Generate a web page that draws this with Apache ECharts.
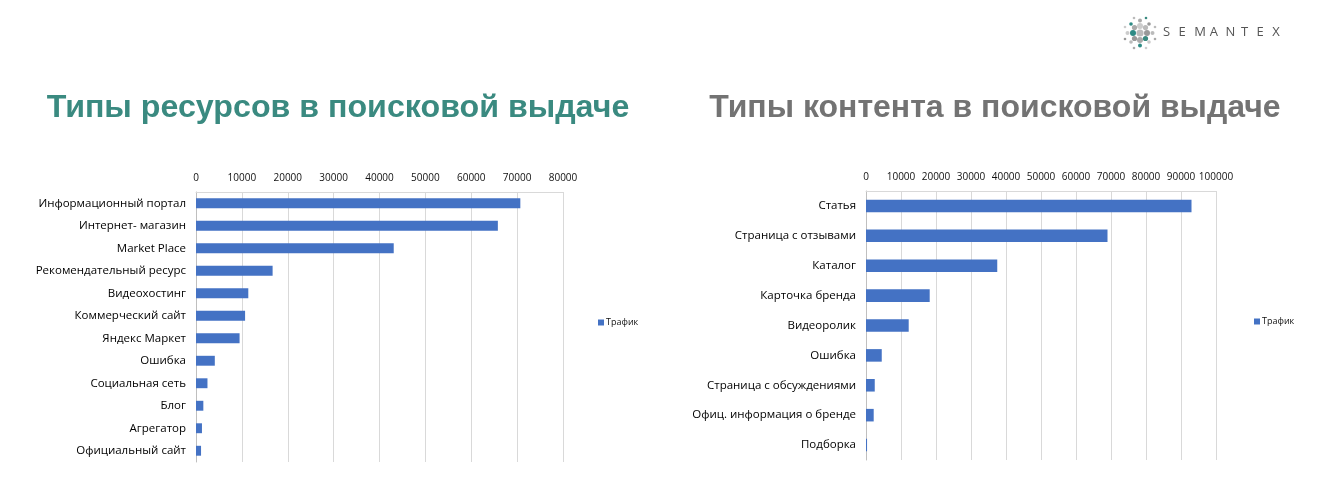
<!DOCTYPE html>
<html><head><meta charset="utf-8">
<script src="https://cdn.jsdelivr.net/npm/echarts@6/dist/echarts.min.js"></script>
<style>html,body{margin:0;padding:0;background:#fff}#c{width:1344px;height:495px}</style>
</head><body><div id="c"></div>
<script>
const resCategories = ['Информационный портал','Интернет- магазин','Market Place','Рекомендательный ресурс','Видеохостинг','Коммерческий сайт','Яндекс Маркет','Ошибка','Социальная сеть','Блог','Агрегатор','Официальный сайт'];
const resValues = [70700,65800,43100,16700,11400,10700,9500,4100,2500,1600,1300,1100];
const contCategories = ['Статья','Страница с отзывами','Каталог','Карточка бренда','Видеоролик','Ошибка','Страница с обсуждениями','Офиц. информация о бренде','Подборка'];
const contValues = [93000,69000,37500,18200,12200,4500,2500,2200,300];
const seriesName = 'Трафик';
const titleLeft = 'Типы ресурсов в поисковой выдаче';
const titleRight = 'Типы контента в поисковой выдаче';
const brand = 'SEMANTEX';

const chart = echarts.init(document.getElementById('c'));
const font = 'Open Sans';
function valueAxis(idx, max) {
  return {
    type: 'value', gridIndex: idx, position: 'top', min: 0, max: max, interval: 10000,
    axisLine: {show: true, lineStyle: {color: '#d9d9d9'}},
    axisTick: {show: false},
    splitLine: {show: true, lineStyle: {color: '#d9d9d9'}},
    axisLabel: {color: '#111', fontSize: 10, fontFamily: font, margin: 9, formatter: v => String(v)}
  };
}
function catAxis(idx, cats) {
  return {
    type: 'category', gridIndex: idx, data: cats, inverse: true,
    axisLine: {show: true, lineStyle: {color: '#bfbfbf'}},
    axisTick: {show: false},
    axisLabel: {color: '#000', fontSize: 11.5, fontFamily: font, margin: 10}
  };
}
// logo dots (decoration)
const logo = [];
const rings = [[0,0,3.6,'#bbb'],[7,0,3,'#999'],[-7,0,3,'#2e8b85'],[0,7,3,'#aaa'],[0,-7,3,'#ccc'],[5.5,5.5,2.6,'#3a8a80'],[-5.5,-5.5,2.6,'#aaa'],[5.5,-5.5,2.6,'#bbb'],[-5.5,5.5,2.6,'#999'],
 [12.5,0,2,'#bbb'],[-12.5,0,2,'#ccc'],[0,12.5,2,'#2e8b85'],[0,-12.5,2,'#aaa'],[9,9,1.8,'#ccc'],[-9,-9,1.8,'#2e8b85'],[9,-9,1.8,'#999'],[-9,9,1.8,'#bbb'],
 [15,6,1.3,'#aaa'],[-15,-6,1.3,'#ccc'],[6,-15,1.3,'#3a8a80'],[-6,15,1.3,'#aaa'],[15,-6,1.3,'#bbb'],[-15,6,1.3,'#999'],[6,15,1.3,'#ccc'],[-6,-15,1.3,'#bbb']];
rings.forEach(r => logo.push({type:'circle', shape:{cx:1140+r[0], cy:33+r[1], r:r[2]}, style:{fill:r[3]}}));
brand.split('').forEach((ch, i) => logo.push({type:'text', x:1163 + i*15.6, y:26, style:{text:ch, fill:'#555', font:'13px "Open Sans"'}}));

chart.setOption({
  animation: false,
  title: [
    {text: titleLeft, left: 333, textAlign: 'center', top: 87, textStyle: {color: '#3a8a80', fontSize: 32.2, fontWeight: 'bold', fontFamily: 'Liberation Sans'}},
    {text: titleRight, left: 990, textAlign: 'center', top: 87, textStyle: {color: '#737373', fontSize: 32, fontWeight: 'bold', fontFamily: 'Liberation Sans'}}
  ],
  legend: [
    {data: [seriesName], left: 593, top: 313, itemWidth: 6, itemHeight: 6, itemGap: 2, icon: 'rect', textStyle: {fontSize: 9, color: '#111', fontFamily: font, padding: [0,0,0,-3]}},
    {data: [seriesName], left: 1249, top: 312, itemWidth: 6, itemHeight: 6, icon: 'rect', textStyle: {fontSize: 9, color: '#111', fontFamily: font, padding: [0,0,0,-3]}}
  ],
  grid: [
    {left: 196, right: 781, top: 192, bottom: 33},
    {left: 866, right: 128, top: 191, bottom: 35}
  ],
  xAxis: [valueAxis(0, 80000), valueAxis(1, 100000)],
  yAxis: [catAxis(0, resCategories), catAxis(1, contCategories)],
  series: [
    {type: 'bar', name: seriesName, xAxisIndex: 0, yAxisIndex: 0, data: resValues, barWidth: '44%', itemStyle: {color: '#4472c4'}},
    {type: 'bar', name: seriesName, xAxisIndex: 1, yAxisIndex: 1, data: contValues, barWidth: '42%', itemStyle: {color: '#4472c4'}}
  ],
  graphic: logo
});
</script></body></html>
